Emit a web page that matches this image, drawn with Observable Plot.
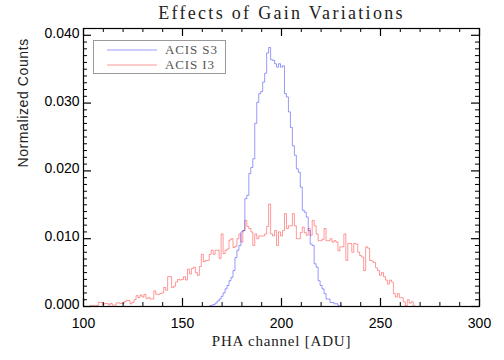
<!DOCTYPE html>
<html><head><meta charset="utf-8">
<script src="https://cdn.jsdelivr.net/npm/d3@7"></script>
<script src="https://cdn.jsdelivr.net/npm/@observablehq/plot@0.6"></script>
<style>
body{margin:0;background:#fff;}
#wrap{position:relative;width:504px;height:360px;overflow:hidden;}
#legend{position:absolute;left:93px;top:40px;width:131px;height:32px;border:1px solid #9a9a9a;background:#fff;font:13px "Liberation Serif",serif;color:#555;}
#legend .row{position:absolute;left:0;height:14px;}
#legend .row span{position:absolute;left:71px;top:0;white-space:nowrap;line-height:14px;height:14px;letter-spacing:0.9px;}
</style></head><body><div id="wrap"></div>
<script>
// ---- data ----
const title = "Effects of Gain Variations";
const xLabel = "PHA channel [ADU]";
const yLabel = "Normalized Counts";
const seriesNames = ["ACIS S3", "ACIS I3"];
const seriesColors = ["blue", "red"];

const s3Start = 157; // first PHA channel of the S3 histogram (1 ADU bins)
const s3Counts = [
  0,0,0,0,0,0,0,0.0001,0.0002,0.0003,          // 157-166
  0.0005,0.0008,0.0011,0.0015,0.0020,0.0026,0.0031,0.0038,0.0043,0.0053, // 167-176
  0.0072,0.0083,0.0090,0.0110,0.0112,0.0159,0.0164,0.0196,0.0205,0.0218, // 177-186
  0.0270,0.0301,0.0314,0.0317,0.0331,0.0344,0.0374,0.0382,0.0364,0.0363, // 187-196
  0.0358,0.0353,0.0358,0.0353,0.0355,0.0314,0.0309,0.0287,0.0264,0.0237, // 197-206
  0.0223,0.0203,0.0198,0.0176,0.0142,0.0139,0.0132,0.0112,0.0092,0.0090, // 207-216
  0.0063,0.0058,0.0038,0.0031,0.0026,0.0019,0.0011,0.0011,0.0006,0.0006, // 217-226
  0.0004,0.0004,0.0001,0.0001,0,0,0,0,0,0,0                              // 227-237
];

const i3Start = 100; // first PHA channel of the I3 histogram
const i3Counts = [
  0,0,0,0,0.00015,0.00015,0.0001,0.00015,0.0006,0.0006,                  // 100-109
  0.0003,0.00044,0.00044,0.0002,0.00044,0.0002,0.0002,0.00054,0.00054,0.00044, // 110-119
  0.00044,0.0007,0.0009,0.0009,0.0004,0.0006,0.0010,0.0016,0.0013,0.0017, // 120-129
  0.0014,0.0018,0.0012,0.0013,0.0011,0.0011,0.0023,0.0018,0.0018,0.0019, // 130-139
  0.0020,0.0028,0.0024,0.0044,0.0044,0.0028,0.0030,0.0036,0.0040,0.0039, // 140-149
  0.0040,0.0044,0.0039,0.0055,0.0048,0.0056,0.0058,0.0050,0.0046,0.0059, // 150-159
  0.0077,0.0066,0.0068,0.0068,0.0077,0.0083,0.0077,0.0083,0.0083,0.0071, // 160-169
  0.0107,0.0078,0.0083,0.0085,0.0098,0.0100,0.0087,0.0089,0.0100,0.0107, // 170-179
  0.0095,0.0112,0.0127,0.0118,0.0115,0.0110,0.0090,0.0107,0.0100,0.0104, // 180-189
  0.0104,0.0104,0.0107,0.0118,0.0151,0.0107,0.0104,0.0112,0.0090,0.0110, // 190-199
  0.0104,0.0112,0.0137,0.0115,0.0119,0.0119,0.0137,0.0119,0.0100,0.0100, // 200-209
  0.0109,0.0117,0.0109,0.0105,0.0115,0.0105,0.0127,0.0119,0.0107,0.0097, // 210-219
  0.0097,0.0099,0.0115,0.0097,0.0097,0.0100,0.0095,0.0097,0.0095,0.0082, // 220-229
  0.0088,0.0088,0.0107,0.0068,0.0093,0.0093,0.0080,0.0093,0.0092,0.0080, // 230-239
  0.0075,0.0073,0.0053,0.0088,0.0086,0.0068,0.0067,0.0065,0.0057,0.0053, // 240-249
  0.0046,0.0050,0.0044,0.0039,0.0033,0.0039,0.0036,0.0019,0.0014,0.0019, // 250-259
  0.0013,0.0013,0.0007,0.0001,0.0010,0.0005,0.0007,0.0001,0,0,           // 260-269
  0,0,0,0,0,0                                                            // 270-275
];

const xMajor = [100, 150, 200, 250, 300];
const xMinor = [110,120,130,140,160,170,180,190,210,220,230,240,260,270,280,290];
const yMajor = [0, 0.01, 0.02, 0.03, 0.04];
const yMinor = [0.001,0.002,0.003,0.004,0.005,0.006,0.007,0.008,0.009,
                0.011,0.012,0.013,0.014,0.015,0.016,0.017,0.018,0.019,
                0.021,0.022,0.023,0.024,0.025,0.026,0.027,0.028,0.029,
                0.031,0.032,0.033,0.034,0.035,0.036,0.037,0.038,0.039];
const xDomain = [100, 300];
const yDomain = [0, 0.041];

// ---- build ----
const s3 = s3Counts.map((c, i) => ({ch: s3Start + i, c}));
const i3 = i3Counts.map((c, i) => ({ch: i3Start + i, c}));

const W = 504, H = 360, mL = 83, mR = 25, mT = 28, mB = 54;
const iW = W - mL - mR, iH = H - mT - mB;
const majLen = 8, minLen = 4;

const chart = Plot.plot({
  width: W, height: H,
  marginLeft: mL, marginRight: mR, marginTop: mT, marginBottom: mB,
  style: {fontFamily: "'Liberation Sans', sans-serif", fontSize: "14px", color: "#000", background: "#fff"},
  x: {domain: xDomain},
  y: {domain: yDomain},
  marks: [
    Plot.line(i3, {x: "ch", y: "c", curve: "step", stroke: seriesColors[1], strokeOpacity: 0.4, strokeWidth: 1}),
    Plot.line(s3, {x: "ch", y: "c", curve: "step", stroke: seriesColors[0], strokeOpacity: 0.4, strokeWidth: 1}),
    Plot.frame({stroke: "#000", strokeWidth: 1.2}),
    // inward ticks on all four sides
    Plot.ruleX(xMajor, {x: d => d, insetTop: iH - majLen, stroke: "#000", strokeWidth: 1.2}),
    Plot.ruleX(xMajor, {x: d => d, insetBottom: iH - majLen, stroke: "#000", strokeWidth: 1.2}),
    Plot.ruleX(xMinor, {x: d => d, insetTop: iH - minLen, stroke: "#000"}),
    Plot.ruleX(xMinor, {x: d => d, insetBottom: iH - minLen, stroke: "#000"}),
    Plot.ruleY(yMajor, {y: d => d, insetRight: iW - majLen, stroke: "#000", strokeWidth: 1.2}),
    Plot.ruleY(yMajor, {y: d => d, insetLeft: iW - majLen, stroke: "#000", strokeWidth: 1.2}),
    Plot.ruleY(yMinor, {y: d => d, insetRight: iW - minLen, stroke: "#000"}),
    Plot.ruleY(yMinor, {y: d => d, insetLeft: iW - minLen, stroke: "#000"}),
    // tick labels
    Plot.axisX({ticks: xMajor, tickSize: 0, tickPadding: 12, tickFormat: d => String(d), label: null, fontSize: 14}),
    Plot.axisY({ticks: yMajor, tickSize: 0, tickPadding: 4, tickFormat: d3.format(".3f"), label: null, fontSize: 14, dy: -2}),
    // titles
    Plot.text([title], {text: d => d, frameAnchor: "top", dy: -15, lineAnchor: "middle",
      fontFamily: "'Liberation Serif', serif", fontSize: 18, fill: "#222"}),
    Plot.text([xLabel], {text: d => d, frameAnchor: "bottom", dy: 35, lineAnchor: "middle",
      fontFamily: "'Liberation Serif', serif", fontSize: 15, fill: "#222"}),
    Plot.text([yLabel], {text: d => d, frameAnchor: "left", dx: -60, rotate: -90, lineAnchor: "middle",
      fontFamily: "'Liberation Sans', sans-serif", fontSize: 14, fill: "#222"})
  ]
});

const wrap = document.getElementById("wrap");
wrap.appendChild(chart);

// letter spacing for serif titles (mimic the wide vector font)
d3.select(chart).selectAll("text").each(function() {
  const t = this.textContent;
  if (t === title) this.style.letterSpacing = "2.3px";
  if (t === xLabel) this.style.letterSpacing = "0.8px";
  if (t === yLabel) this.style.letterSpacing = "0.6px";
});

// legend
const legend = document.createElement("div");
legend.id = "legend";
seriesNames.forEach((name, i) => {
  const row = document.createElement("div");
  row.className = "row";
  row.style.top = (2 + i * 15) + "px";
  row.style.width = "130px";
  row.innerHTML = `<svg width="70" height="14" style="position:absolute;left:0;top:0"><line x1="13" x2="63" y1="7" y2="7" stroke="${seriesColors[i]}" stroke-opacity="0.4" stroke-width="1"/></svg><span>${name}</span>`;
  legend.appendChild(row);
});
wrap.appendChild(legend);
</script></body></html>
